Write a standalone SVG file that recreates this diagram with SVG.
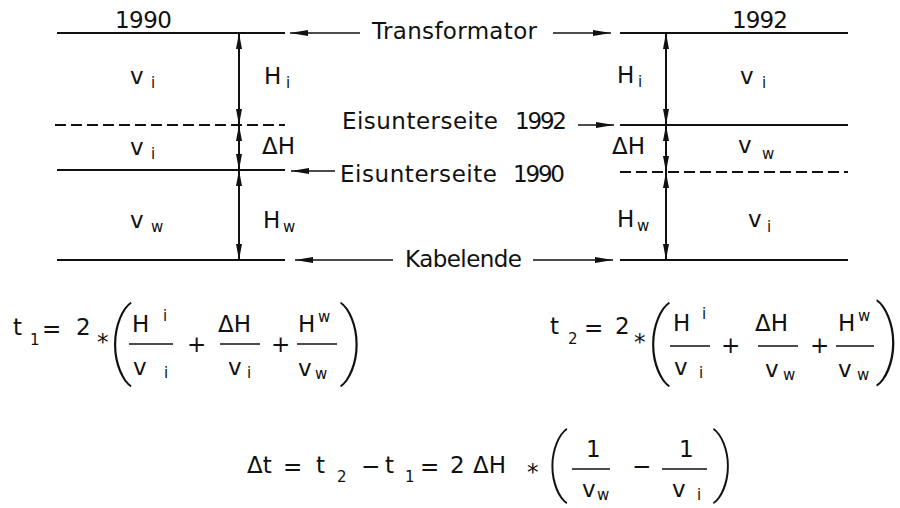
<svg xmlns="http://www.w3.org/2000/svg" width="900" height="508" viewBox="0 0 900 508">
<defs>
<style>
text{font-family:"DejaVu Sans","Liberation Sans",sans-serif;font-size:23px;fill:#111}
.s{font-size:15px}
.line{stroke:#111;stroke-width:2;fill:none}
.dash{stroke:#111;stroke-width:2;fill:none;stroke-dasharray:11 5}
.dim{stroke:#111;stroke-width:2;fill:none;marker-start:url(#ah);marker-end:url(#ah)}
.ptr{stroke:#111;stroke-width:1.6;fill:none;marker-end:url(#ph)}
.bar{stroke:#111;stroke-width:1.6}
.par{font-family:Roboto,Inter,"Open Sans",sans-serif;font-weight:100}
</style>
<marker id="ah" viewBox="0 0 16 7" refX="16" refY="3.5" markerWidth="16" markerHeight="7" markerUnits="userSpaceOnUse" orient="auto-start-reverse">
<path d="M0,0.5 L16,3.5 L0,6.5 z" fill="#111"/>
</marker>
<marker id="ph" viewBox="0 0 18 7" refX="18" refY="3.5" markerWidth="18" markerHeight="7" markerUnits="userSpaceOnUse" orient="auto">
<path d="M0,0.5 L18,3.5 L0,6.5 z" fill="#111"/>
</marker>
</defs>
<rect width="900" height="508" fill="#fff"/>

<g id="left-1990">
<text x="115" y="28" textLength="57">1990</text>
<line class="line" x1="57" y1="33" x2="285" y2="33"/>
<line class="dash" x1="55" y1="125" x2="285" y2="125"/>
<line class="line" x1="57" y1="170" x2="285" y2="170"/>
<line class="line" x1="57" y1="260" x2="285" y2="260"/>
<line class="dim" x1="239" y1="33" x2="239" y2="125"/>
<line class="dim" x1="239" y1="125" x2="239" y2="170"/>
<line class="dim" x1="239" y1="170" x2="239" y2="260"/>
<text x="130" y="84">v</text><text class="s" x="151" y="88">i</text>
<text x="264" y="84">H</text><text class="s" x="286" y="88">i</text>
<text x="130" y="155">v</text><text class="s" x="151" y="159">i</text>
<text x="262" y="154">ΔH</text>
<text x="130" y="228">v</text><text class="s" x="151" y="232">w</text>
<text x="263" y="228">H</text><text class="s" x="283" y="232">w</text>
</g>

<g id="right-1992">
<text x="732" y="28" textLength="56">1992</text>
<line class="line" x1="620" y1="33" x2="848" y2="33"/>
<line class="line" x1="620" y1="125" x2="848" y2="125"/>
<line class="dash" x1="620" y1="172" x2="848" y2="172"/>
<line class="line" x1="620" y1="260" x2="848" y2="260"/>
<line class="dim" x1="666" y1="33" x2="666" y2="125"/>
<line class="dim" x1="666" y1="125" x2="666" y2="172"/>
<line class="dim" x1="666" y1="172" x2="666" y2="260"/>
<text x="617" y="83">H</text><text class="s" x="638" y="87">i</text>
<text x="740" y="84">v</text><text class="s" x="762" y="88">i</text>
<text x="612" y="154">ΔH</text>
<text x="738" y="153">v</text><text class="s" x="762" y="159">w</text>
<text x="617" y="227">H</text><text class="s" x="637" y="231">w</text>
<text x="748" y="227">v</text><text class="s" x="767" y="232">i</text>
</g>

<g id="label-transformator">
<text x="372" y="39" textLength="165">Transformator</text>
</g>
<g id="label-eis1992">
<text x="342" y="129" textLength="156">Eisunterseite</text>
<text x="515" y="129" textLength="52">1992</text>
</g>
<g id="label-eis1990">
<text x="340" y="182" textLength="157">Eisunterseite</text>
<text x="513" y="182" textLength="52">1990</text>
</g>
<g id="label-kabelende">
<text x="405" y="267" textLength="117">Kabelende</text>
</g>

<g id="connectors">
<line class="ptr" x1="360" y1="33" x2="290" y2="33"/>
<line class="ptr" x1="553" y1="33" x2="611" y2="33"/>
<line class="ptr" x1="578" y1="125" x2="614" y2="125"/>
<line class="ptr" x1="335" y1="171" x2="291" y2="171"/>
<line class="ptr" x1="393" y1="260" x2="295" y2="260"/>
<line class="ptr" x1="533" y1="260" x2="613" y2="260"/>
</g>

<g id="formula-t1">
<text x="13" y="335">t</text><text class="s" x="30" y="345">1</text>
<text x="42" y="337">=</text>
<text x="76" y="335">2</text>
<text x="97" y="350">*</text>
<text class="par" x="108" y="368" style="font-size:83px">(</text>
<text x="132" y="332">H</text><text class="s" x="163" y="321">i</text>
<line class="bar" x1="129" y1="344" x2="173" y2="344"/>
<text x="133" y="375">v</text><text class="s" x="164" y="378">i</text>
<text x="187" y="352">+</text>
<text x="218" y="332">ΔH</text>
<line class="bar" x1="220" y1="344" x2="260" y2="344"/>
<text x="228" y="375">v</text><text class="s" x="247" y="378">i</text>
<text x="271" y="352">+</text>
<text x="298" y="332">H</text><text class="s" x="318" y="322">w</text>
<line class="bar" x1="297" y1="344" x2="337" y2="344"/>
<text x="298" y="376">v</text><text class="s" x="315" y="379">w</text>
<text class="par" x="339" y="368" style="font-size:83px">)</text>
</g>

<g id="formula-t2">
<text x="550" y="334">t</text><text class="s" x="568" y="344">2</text>
<text x="584" y="336">=</text>
<text x="615" y="334">2</text>
<text x="634" y="350">*</text>
<text class="par" x="646" y="368" style="font-size:84px">(</text>
<text x="673" y="331">H</text><text class="s" x="702" y="319">i</text>
<line class="bar" x1="670" y1="346" x2="710" y2="346"/>
<text x="674" y="375">v</text><text class="s" x="699" y="378">i</text>
<text x="721" y="353">+</text>
<text x="755" y="331">ΔH</text>
<line class="bar" x1="758" y1="346" x2="798" y2="346"/>
<text x="765" y="377">v</text><text class="s" x="783" y="380">w</text>
<text x="810" y="353">+</text>
<text x="838" y="331">H</text><text class="s" x="858" y="321">w</text>
<line class="bar" x1="836" y1="346" x2="874" y2="346"/>
<text x="838" y="377">v</text><text class="s" x="857" y="380">w</text>
<text class="par" x="875" y="367" style="font-size:86px">)</text>
</g>

<g id="formula-dt">
<text x="247" y="473">Δt</text>
<text x="283" y="475">=</text>
<text x="316" y="473">t</text><text class="s" x="337" y="482">2</text>
<text x="361" y="474">−</text>
<text x="385" y="473">t</text><text class="s" x="405" y="482">1</text>
<text x="420" y="475">=</text>
<text x="450" y="473">2</text>
<text x="473" y="473">ΔH</text>
<text x="527" y="480">*</text>
<text class="par" x="546" y="487" style="font-size:75px">(</text>
<text x="586" y="457">1</text>
<line class="bar" x1="572" y1="469" x2="610" y2="469"/>
<text x="582" y="497">v</text><text class="s" x="597" y="500">w</text>
<text x="632" y="474">−</text>
<text x="679" y="457">1</text>
<line class="bar" x1="662" y1="469" x2="707" y2="469"/>
<text x="672" y="497">v</text><text class="s" x="697" y="500">i</text>
<text class="par" x="712" y="487" style="font-size:75px">)</text>
</g>
</svg>
